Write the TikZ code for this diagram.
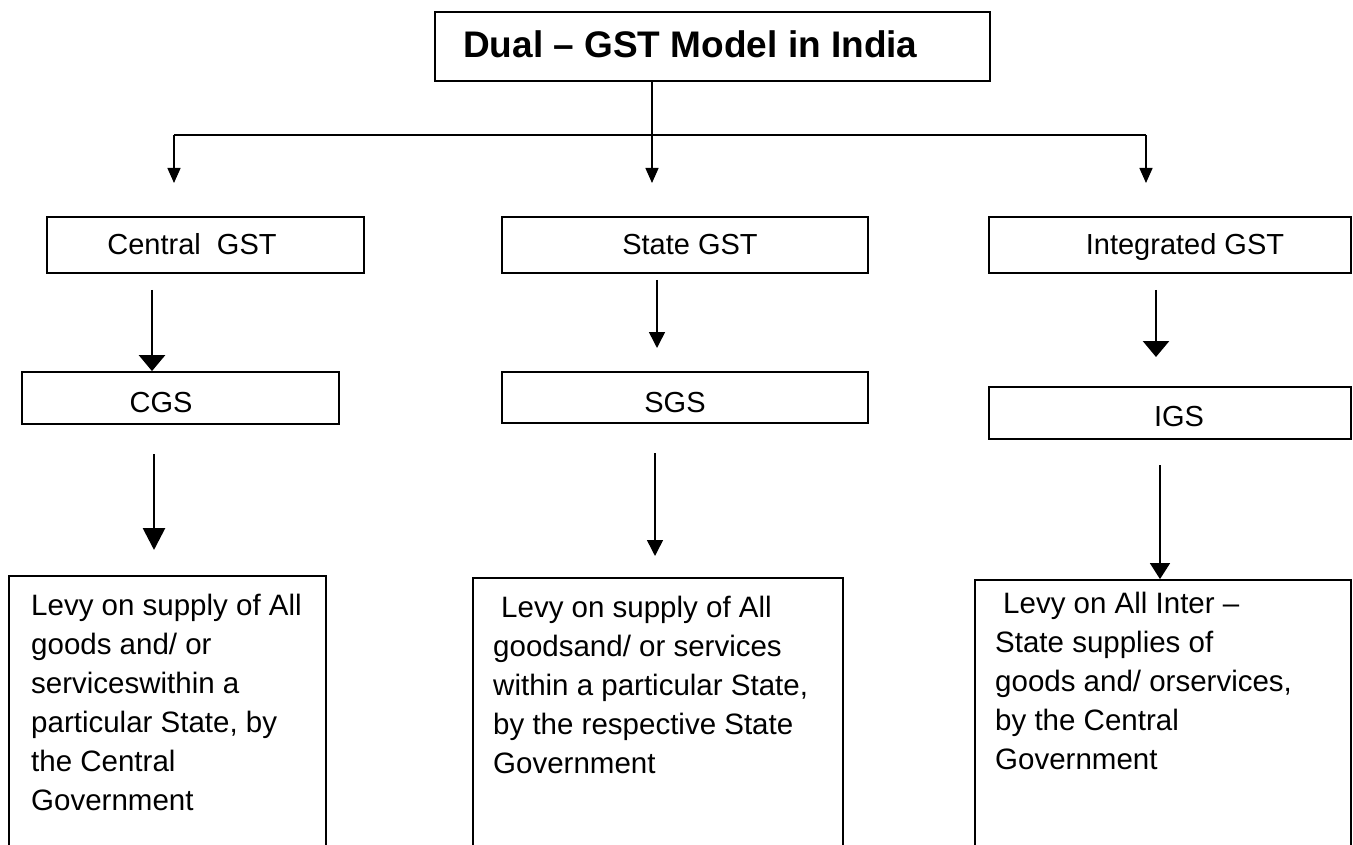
\documentclass[tikz,border=0pt]{standalone}
\usepackage{fontspec}
\setmainfont{Liberation Sans}
\usetikzlibrary{arrows.meta}
\begin{document}
\begin{tikzpicture}[x=1pt,y=-1pt,
  box/.style={draw,line width=1.8pt,rectangle,inner sep=0pt},
  lbl/.style={font=\fontsize{29}{39}\selectfont,anchor=base,inner sep=0pt},
  body/.style={font=\fontsize{29.5}{39}\selectfont,anchor=north west,inner sep=0pt,align=left},
  thinline/.style={line width=1.4pt},
  thinarrow/.style={line width=1.4pt,-{Triangle[length=15pt,width=13pt]}},
  midarrow/.style={line width=1.5pt,-{Triangle[length=16pt,width=16pt]}},
  thickarrow/.style={line width=2.8pt,-{Triangle[length=16pt,width=26pt]}},
  bigarrow/.style={line width=2.8pt,-{Triangle[length=22pt,width=22pt]}},
  rarrow/.style={line width=1.5pt,-{Triangle[length=16pt,width=20pt]}}]
\useasboundingbox[fill=white] (0,0) rectangle (1353,845);

% title
\node[box,minimum width=555pt,minimum height=69pt] (title) at (712.5,46.5) {};
\node[font=\bfseries\fontsize{37}{44}\selectfont,anchor=base west,inner sep=0pt] (titletext) at (463,58) {Dual – GST Model in India};

% branch lines
\coordinate (tL) at (174,135);
\coordinate (tM) at (652,135);
\coordinate (tR) at (1146,135);
\coordinate (eL) at (174,183);
\coordinate (eM) at (652,183);
\coordinate (eR) at (1146,183);
\draw[thinline] (tL) -- (tR);
\draw[thinarrow] (tM |- title.south) -- (eM);
\draw[thinarrow] (tL) -- (eL);
\draw[thinarrow] (tR) -- (eR);

% level 1
\node[box,minimum width=317pt,minimum height=56pt] (cgst) at (205.5,245) {};
\node[box,minimum width=366pt,minimum height=56pt] (sgst) at (685,245) {};
\node[box,minimum width=362pt,minimum height=56pt] (igst) at (1170,245) {};
\node[lbl] (cgstt) at (192,255) {Central\ \ GST};
\node[lbl] (sgstt) at (690,255) {State GST};
\node[lbl] (igstt) at (1185,255) {Integrated GST};

% level 2
\node[box,minimum width=317pt,minimum height=52pt] (cgs) at (180.5,398) {};
\node[box,minimum width=366pt,minimum height=51pt] (sgs) at (685,397.5) {};
\node[box,minimum width=362pt,minimum height=52pt] (igs) at (1170,413) {};
\node[lbl] (cgst2) at (161,412) {CGS};
\node[lbl] (sgst2) at (675,412) {SGS};
\node[lbl] (igst2) at (1179,426) {IGS};

% arrows level1 -> level2
\coordinate (s1) at (152,290);
\coordinate (s2) at (657,280);
\coordinate (e2) at (657,348);
\coordinate (s3) at (1156,290);
\coordinate (e3) at (1156,357);
\draw[thickarrow] (s1) -- (s1 |- cgs.north);
\draw[midarrow] (s2) -- (e2);
\draw[thickarrow] (s3) -- (e3);

% arrows level2 -> level3
\coordinate (s4) at (154,454);
\coordinate (e4) at (154,550);
\coordinate (s5) at (655,453);
\coordinate (e5) at (655,556);
\coordinate (s6) at (1160,465);
\draw[bigarrow] (s4) -- (e4);
\draw[midarrow] (s5) -- (e5);

% level 3 (cut by the page bottom)
\begin{scope}
\clip (0,0) rectangle (1353,845);
\node[box,minimum width=317pt,minimum height=400pt] (bL) at (167.5,776) {};
\node[box,minimum width=370pt,minimum height=400pt] (bM) at (658,778) {};
\node[box,minimum width=376pt,minimum height=400pt] (bR) at (1163,780) {};
\end{scope}
\draw[rarrow] (s6) -- (s6 |- bR.north);

\node[body] (tL3) at (31,594) {Levy on supply of All\\goods and/ or\\serviceswithin a\\particular State, by\\the Central\\Government};
\node[body] (tM3) at (493,596) {\hspace*{8pt}Levy on supply of All\\goodsand/ or services\\within a particular State,\\by the respective State\\Government};
\node[body] (tR3) at (995,592) {\hspace*{8pt}Levy on All Inter –\\State supplies of\\goods and/ orservices,\\by the Central\\Government};
\end{tikzpicture}
\end{document}
